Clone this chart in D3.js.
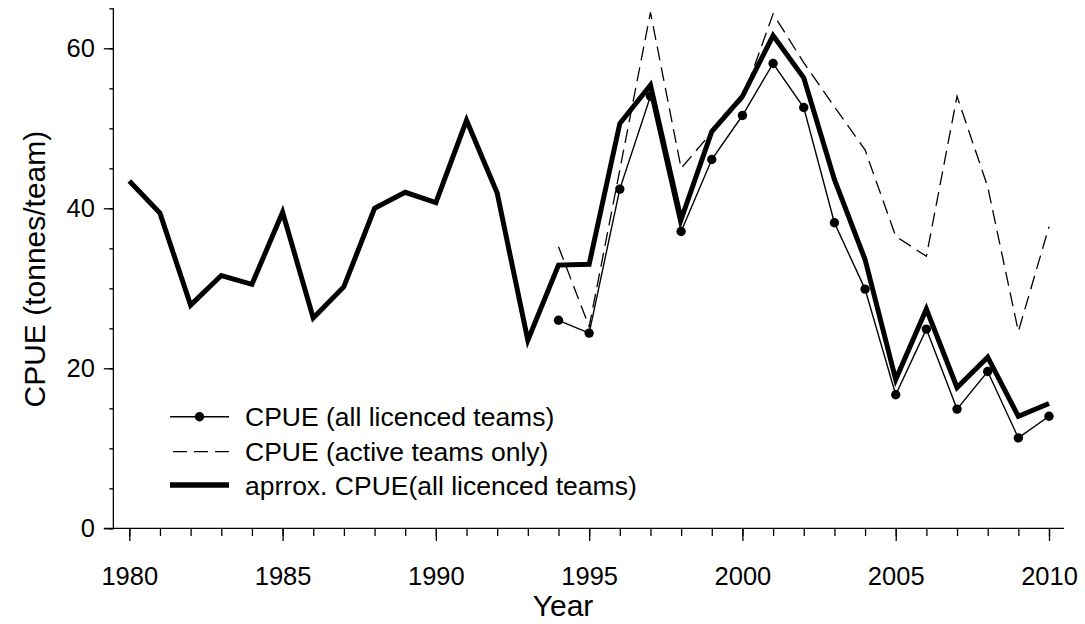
<!DOCTYPE html>
<html>
<head>
<meta charset="utf-8">
<script src="https://cdn.jsdelivr.net/npm/d3@7"></script>
<style>
  html, body { margin: 0; padding: 0; background: #fff; }
  svg { display: block; font-family: "Liberation Sans", Arial, Helvetica, sans-serif; }
</style>
</head>
<body>
<svg id="chart" width="1085" height="624"></svg>
<script>
// ---- data ----
const approxYears = d3.range(1980, 2011);
const approxCPUE = [43.4, 39.4, 27.9, 31.6, 30.5, 39.5, 26.3, 30.2, 40.0, 42.0, 40.7, 51.0, 41.9, 23.5,
                    32.9, 33.0, 50.6, 55.4, 38.6, 49.6, 54.0, 61.6, 56.3, 43.6, 33.6, 18.6, 27.4, 17.6, 21.4, 14.0, 15.6];
const licYears = d3.range(1994, 2011);
const licCPUE = [26.0, 24.4, 42.4, 54.0, 37.1, 46.1, 51.6, 58.1, 52.6, 38.2, 29.9, 16.7, 24.9, 14.9, 19.6, 11.3, 14.0];
const activeYears = d3.range(1994, 2011);
const activeCPUE = [35.2, 25.2, 44.8, 64.5, 45.0, 49.5, 53.6, 64.3, 58.2, 52.7, 47.3, 36.5, 34.0, 54.0, 42.7, 24.6, 37.7];
const yMajorTicks = [0, 20, 40, 60];
const yMinorTicks = d3.range(0, 66, 5);
const xMajorTicks = [1980, 1985, 1990, 1995, 2000, 2005, 2010];
const xMinorTicks = d3.range(1980, 2011);
const legendLabels = ["CPUE (all licenced teams)", "CPUE (active teams only)", "aprrox. CPUE(all licenced teams)"];

// ---- layout ----
const svg = d3.select("#chart");
const x = d3.scaleLinear().domain([1980, 2010]).range([129.3, 1049]);
const y = d3.scaleLinear().domain([0, 65]).range([528.3, 8.3]);
const yAxisX = x(1979.48);
const x0 = y(0);
const FONT = "Liberation Sans, Arial, sans-serif";

// y axis
const gyMinor = svg.append("g").attr("transform", `translate(${yAxisX},0)`)
  .call(d3.axisLeft(y).tickValues(yMinorTicks).tickSize(4).tickSizeOuter(0).tickFormat(""));
gyMinor.select(".domain").remove();
const gyMajor = svg.append("g").attr("transform", `translate(${yAxisX},0)`)
  .call(d3.axisLeft(y).tickValues(yMajorTicks).tickSize(9.5).tickSizeOuter(0).tickPadding(9));
gyMajor.select(".domain").remove();
gyMajor.selectAll("text").attr("font-size", 25.5).attr("font-family", FONT).attr("fill", "#000");
svg.append("line").attr("x1", yAxisX).attr("x2", yAxisX).attr("y1", y(65)).attr("y2", x0)
  .attr("stroke", "#000").attr("stroke-width", 1.3);

// x axis
const gxMinor = svg.append("g").attr("transform", `translate(0,${x0})`)
  .call(d3.axisBottom(x).tickValues(xMinorTicks).tickSize(7.7).tickSizeOuter(0).tickFormat(""));
gxMinor.select(".domain").remove();
const gxMajor = svg.append("g").attr("transform", `translate(0,${x0})`)
  .call(d3.axisBottom(x).tickValues(xMajorTicks).tickSize(12.7).tickSizeOuter(0).tickPadding(26).tickFormat(d3.format("d")));
gxMajor.select(".domain").remove();
gxMajor.selectAll("text").attr("font-size", 25.5).attr("font-family", FONT).attr("fill", "#000");
svg.selectAll("g line").attr("stroke", "#000").attr("stroke-width", 1.3);
svg.append("line").attr("x1", yAxisX - 9.5).attr("x2", x(2010.49)).attr("y1", x0).attr("y2", x0)
  .attr("stroke", "#000").attr("stroke-width", 1.3);

// axis titles
svg.append("text").attr("x", 563).attr("y", 616).attr("text-anchor", "middle")
  .attr("font-size", 30).text("Year");
svg.append("text").attr("transform", `translate(45,${y(32.4)}) rotate(-90)`).attr("text-anchor", "middle")
  .attr("font-size", 30).text("CPUE (tonnes/team)");

// lines
const line = d3.line().x(d => x(d[0])).y(d => y(d[1]));
const approx = approxYears.map((yr, i) => [yr, approxCPUE[i]]);
const lic = licYears.map((yr, i) => [yr, licCPUE[i]]);
const act = activeYears.map((yr, i) => [yr, activeCPUE[i]]);

svg.append("path").datum(act).attr("d", line).attr("fill", "none").attr("stroke", "#000")
  .attr("stroke-width", 1.3).attr("stroke-dasharray", "14,7");
svg.append("path").datum(lic).attr("d", line).attr("fill", "none").attr("stroke", "#000")
  .attr("stroke-width", 1.4);
svg.append("g").selectAll("circle").data(lic).join("circle")
  .attr("cx", d => x(d[0])).attr("cy", d => y(d[1])).attr("r", 4.7).attr("fill", "#000");
svg.append("path").datum(approx).attr("d", line).attr("fill", "none").attr("stroke", "#000")
  .attr("stroke-width", 5).attr("stroke-linejoin", "miter");

// legend
const lg = svg.append("g");
const rowsY = [416.7, 451.7, 485];
const lx1 = 170, lx2 = 229;
lg.append("line").attr("x1", lx1).attr("x2", lx2).attr("y1", rowsY[0]).attr("y2", rowsY[0]).attr("stroke", "#000").attr("stroke-width", 1.4);
lg.append("circle").attr("cx", (lx1 + lx2) / 2).attr("cy", rowsY[0]).attr("r", 4.7).attr("fill", "#000");
lg.append("line").attr("x1", lx1).attr("x2", lx2).attr("y1", rowsY[1]).attr("y2", rowsY[1]).attr("stroke", "#000").attr("stroke-width", 1.3).attr("stroke-dasharray", "14,7").attr("stroke-dashoffset", -3);
lg.append("line").attr("x1", lx1).attr("x2", lx2).attr("y1", rowsY[2]).attr("y2", rowsY[2]).attr("stroke", "#000").attr("stroke-width", 5.5);
lg.selectAll("text").data(legendLabels).join("text")
  .attr("x", 245).attr("y", (d, i) => rowsY[i]).attr("dy", "0.36em")
  .attr("font-size", 26.5).text(d => d);
</script>
</body>
</html>
